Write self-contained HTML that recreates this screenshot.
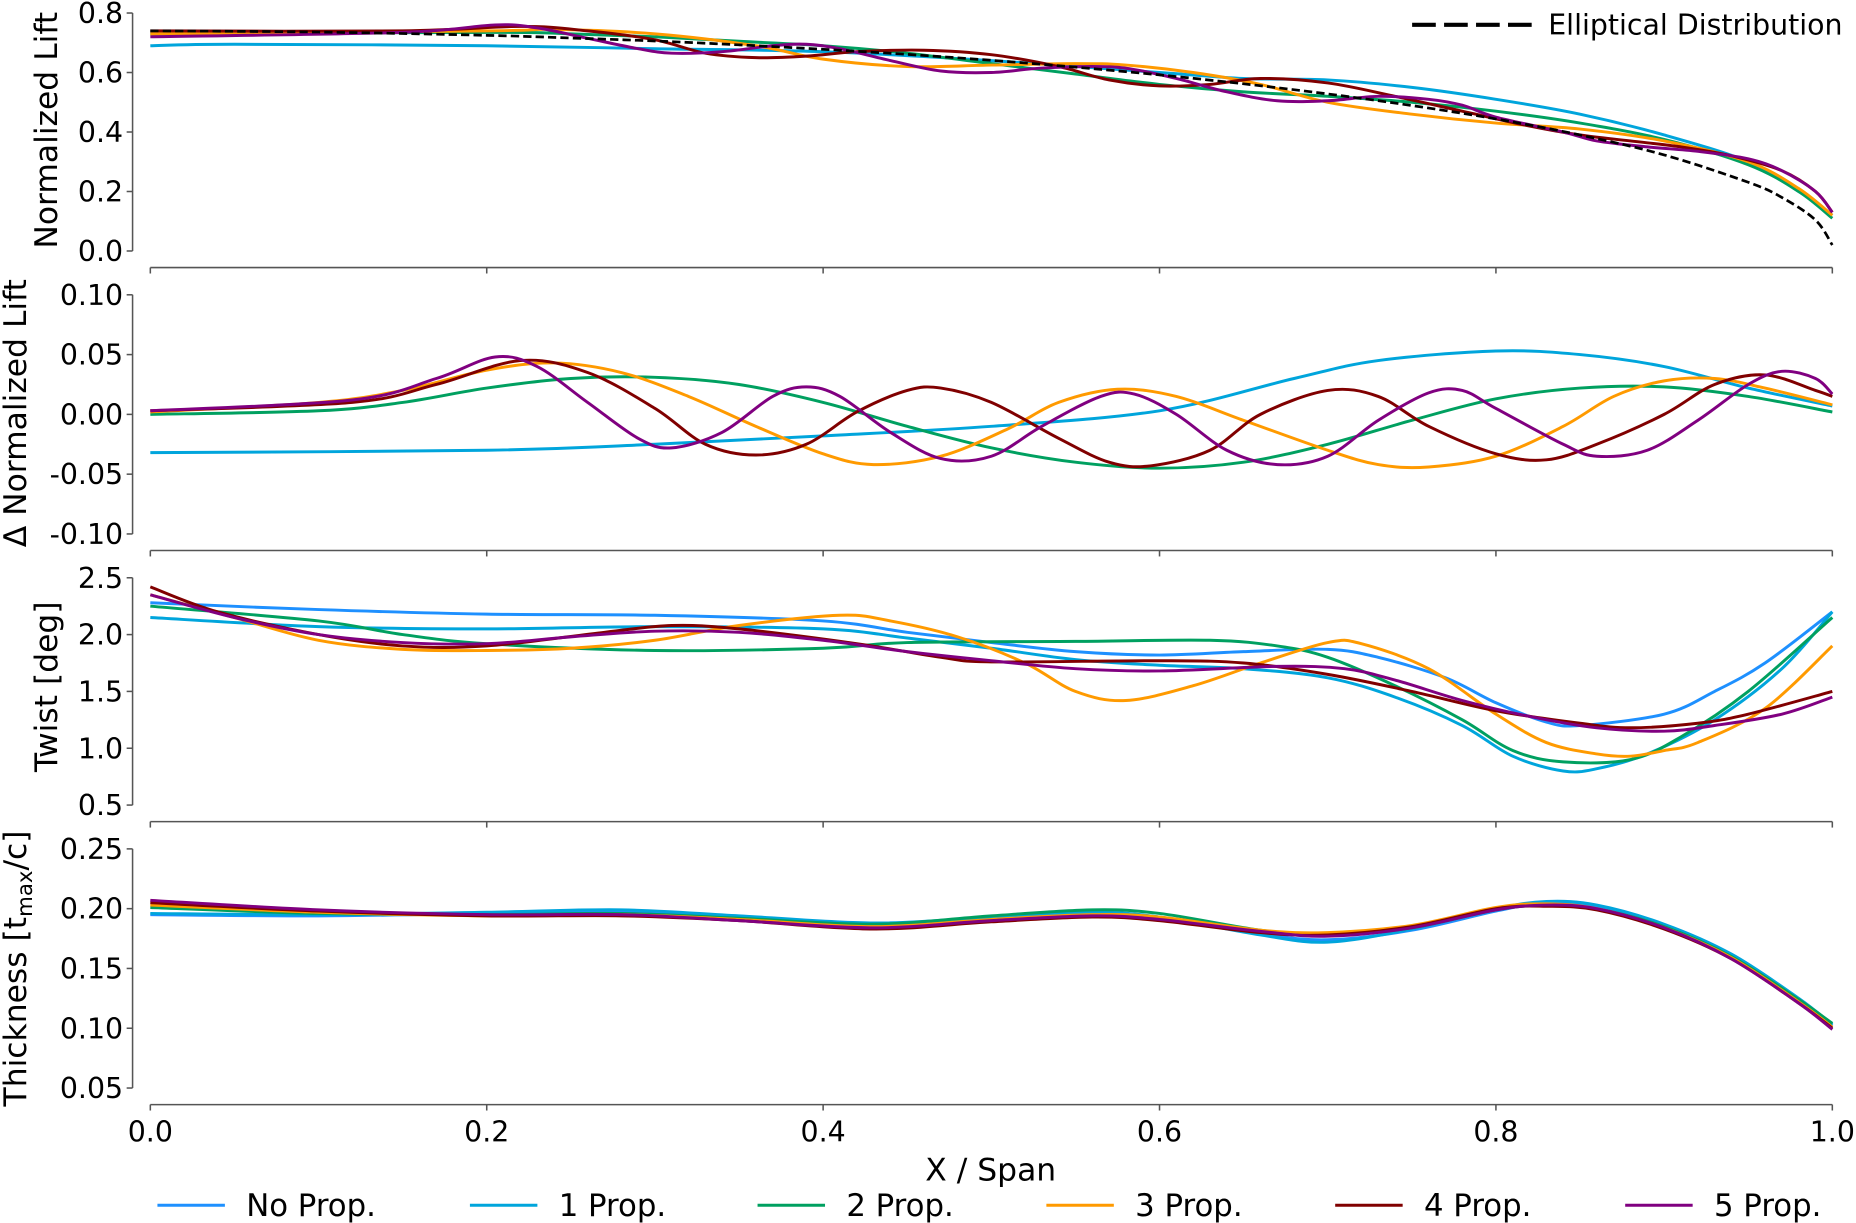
<!DOCTYPE html>
<html><head><meta charset="utf-8"><style>
html,body{margin:0;padding:0;background:#fff;}
svg{display:block;font-family:"DejaVu Sans","Liberation Sans",sans-serif;}
</style></head><body>
<svg id="chart" width="1856" height="1223" viewBox="0 0 1568 1033" preserveAspectRatio="none" xmlns="http://www.w3.org/2000/svg"></svg>
<script>
// ---- data ----
const xTicks = [0, 0.2, 0.4, 0.6, 0.8, 1.0];
const xTickLabels = ["0.0", "0.2", "0.4", "0.6", "0.8", "1.0"];
const seriesNames = ["No Prop.", "1 Prop.", "2 Prop.", "3 Prop.", "4 Prop.", "5 Prop."];
const seriesColors = ["#1e90ff", "#00a5dc", "#00a060", "#ff9a00", "#800000", "#800080"];

const liftTicks = [0, 0.2, 0.4, 0.6, 0.8];
const liftTickLabels = ["0.0", "0.2", "0.4", "0.6", "0.8"];
const deltaTicks = [-0.10, -0.05, 0, 0.05, 0.10];
const deltaTickLabels = ["-0.10", "-0.05", "0.00", "0.05", "0.10"];
const twistTicks = [0.5, 1.0, 1.5, 2.0, 2.5];
const twistTickLabels = ["0.5", "1.0", "1.5", "2.0", "2.5"];
const thickTicks = [0.05, 0.10, 0.15, 0.20, 0.25];
const thickTickLabels = ["0.05", "0.10", "0.15", "0.20", "0.25"];

// Elliptical reference
const ellipX = [0, 0.1, 0.2, 0.25, 0.3, 0.35, 0.4, 0.45, 0.5, 0.55, 0.6, 0.65, 0.7, 0.75, 0.8, 0.85, 0.9, 0.95, 0.97, 0.99, 1.0];
const ellipY = [0.74, 0.736, 0.725, 0.716, 0.706, 0.693, 0.678, 0.661, 0.641, 0.618, 0.592, 0.562, 0.528, 0.489, 0.444, 0.39, 0.323, 0.231, 0.18, 0.104, 0.02];

// Normalized lift
const lift1X = [0, 0.05, 0.2, 0.3, 0.4, 0.5, 0.6, 0.65, 0.7, 0.75, 0.8, 0.85, 0.9, 0.95, 0.98, 1.0];
const lift1Y = [0.69, 0.695, 0.69, 0.68, 0.67, 0.64, 0.6, 0.58, 0.575, 0.55, 0.51, 0.46, 0.39, 0.3, 0.2, 0.12];
const lift2X = [0, 0.2, 0.25, 0.3, 0.35, 0.4, 0.45, 0.5, 0.55, 0.6, 0.65, 0.7, 0.75, 0.8, 0.85, 0.9, 0.95, 0.98, 1.0];
const lift2Y = [0.73, 0.735, 0.73, 0.72, 0.705, 0.69, 0.665, 0.63, 0.595, 0.56, 0.535, 0.52, 0.5, 0.47, 0.43, 0.375, 0.29, 0.2, 0.11];
const lift3X = [0, 0.2, 0.24, 0.3, 0.36, 0.4, 0.45, 0.5, 0.55, 0.58, 0.62, 0.66, 0.7, 0.75, 0.8, 0.85, 0.9, 0.95, 0.98, 1.0];
const lift3Y = [0.73, 0.74, 0.745, 0.73, 0.69, 0.645, 0.62, 0.625, 0.63, 0.625, 0.6, 0.56, 0.5, 0.46, 0.43, 0.41, 0.37, 0.3, 0.21, 0.12];
const lift4X = [0, 0.15, 0.22, 0.26, 0.3, 0.33, 0.36, 0.39, 0.42, 0.46, 0.5, 0.54, 0.57, 0.6, 0.63, 0.66, 0.7, 0.74, 0.78, 0.82, 0.85, 0.88, 0.91, 0.94, 0.97, 0.99, 1.0];
const lift4Y = [0.74, 0.74, 0.755, 0.74, 0.71, 0.665, 0.65, 0.655, 0.67, 0.675, 0.66, 0.62, 0.575, 0.555, 0.56, 0.58, 0.565, 0.52, 0.47, 0.42, 0.39, 0.37, 0.35, 0.32, 0.27, 0.2, 0.13];
const lift5X = [0, 0.15, 0.205, 0.23, 0.26, 0.29, 0.31, 0.34, 0.37, 0.39, 0.41, 0.44, 0.47, 0.5, 0.53, 0.565, 0.585, 0.61, 0.64, 0.67, 0.7, 0.73, 0.76, 0.78, 0.8, 0.84, 0.86, 0.89, 0.92, 0.95, 0.97, 0.99, 1.0];
const lift5Y = [0.72, 0.735, 0.76, 0.75, 0.715, 0.68, 0.665, 0.67, 0.69, 0.695, 0.68, 0.64, 0.605, 0.6, 0.615, 0.62, 0.61, 0.58, 0.535, 0.505, 0.505, 0.52, 0.51, 0.49, 0.45, 0.4, 0.37, 0.35, 0.335, 0.31, 0.27, 0.2, 0.13];

// Delta normalized lift
const d1X = [0, 0.2, 0.3, 0.4, 0.5, 0.6, 0.68, 0.73, 0.8, 0.85, 0.9, 0.95, 1.0];
const d1Y = [-0.032, -0.03, -0.025, -0.018, -0.01, 0.003, 0.03, 0.045, 0.053, 0.05, 0.04, 0.022, 0.007];
const d2X = [0, 0.1, 0.15, 0.2, 0.25, 0.3, 0.35, 0.4, 0.45, 0.5, 0.55, 0.6, 0.65, 0.7, 0.75, 0.8, 0.85, 0.9, 0.95, 1.0];
const d2Y = [0, 0.003, 0.01, 0.022, 0.03, 0.031, 0.025, 0.01, -0.01, -0.028, -0.04, -0.045, -0.04, -0.025, -0.005, 0.013, 0.022, 0.023, 0.015, 0.002];
const d3X = [0, 0.1, 0.15, 0.2, 0.24, 0.28, 0.32, 0.36, 0.4, 0.43, 0.47, 0.51, 0.54, 0.575, 0.61, 0.65, 0.7, 0.73, 0.76, 0.8, 0.84, 0.87, 0.9, 0.93, 0.96, 1.0];
const d3Y = [0.002, 0.01, 0.02, 0.037, 0.043, 0.035, 0.015, -0.01, -0.033, -0.042, -0.035, -0.012, 0.01, 0.021, 0.015, -0.005, -0.03, -0.042, -0.044, -0.035, -0.01, 0.015, 0.028, 0.03, 0.022, 0.008];
const d4X = [0, 0.12, 0.17, 0.22, 0.26, 0.3, 0.33, 0.36, 0.39, 0.42, 0.45, 0.47, 0.5, 0.54, 0.57, 0.595, 0.63, 0.66, 0.7, 0.73, 0.76, 0.8, 0.83, 0.86, 0.9, 0.93, 0.96, 0.99, 1.0];
const d4Y = [0.003, 0.01, 0.025, 0.045, 0.035, 0.005, -0.025, -0.034, -0.025, 0.002, 0.02, 0.022, 0.01, -0.02, -0.04, -0.043, -0.03, 0, 0.02, 0.015, -0.01, -0.033, -0.038, -0.025, 0, 0.025, 0.033, 0.02, 0.015];
const d5X = [0, 0.12, 0.17, 0.205, 0.23, 0.26, 0.29, 0.31, 0.34, 0.37, 0.39, 0.41, 0.44, 0.47, 0.5, 0.53, 0.565, 0.585, 0.61, 0.64, 0.67, 0.7, 0.73, 0.76, 0.78, 0.8, 0.84, 0.86, 0.89, 0.92, 0.95, 0.97, 0.99, 1.0];
const d5Y = [0.003, 0.012, 0.03, 0.048, 0.04, 0.01, -0.02, -0.028, -0.015, 0.015, 0.023, 0.015, -0.015, -0.037, -0.035, -0.01, 0.015, 0.017, 0, -0.03, -0.042, -0.035, -0.005, 0.018, 0.02, 0.005, -0.025, -0.035, -0.03, -0.005, 0.025, 0.036, 0.03, 0.017];

// Twist
const t0X = [0, 0.1, 0.2, 0.3, 0.4, 0.45, 0.5, 0.55, 0.6, 0.65, 0.7, 0.73, 0.77, 0.8, 0.83, 0.85, 0.9, 0.93, 0.96, 1.0];
const t0Y = [2.28, 2.22, 2.18, 2.17, 2.12, 2.02, 1.93, 1.85, 1.82, 1.85, 1.87, 1.8, 1.62, 1.4, 1.23, 1.2, 1.3, 1.5, 1.75, 2.2];
const t1X = [0, 0.1, 0.2, 0.3, 0.4, 0.45, 0.5, 0.55, 0.6, 0.65, 0.7, 0.74, 0.78, 0.81, 0.84, 0.86, 0.89, 0.93, 0.97, 1.0];
const t1Y = [2.15, 2.07, 2.05, 2.07, 2.05, 1.97, 1.88, 1.78, 1.73, 1.7, 1.62, 1.45, 1.2, 0.93, 0.8, 0.82, 0.95, 1.25, 1.7, 2.2];
const t2X = [0, 0.1, 0.15, 0.2, 0.3, 0.4, 0.45, 0.55, 0.63, 0.67, 0.7, 0.74, 0.78, 0.81, 0.84, 0.88, 0.91, 0.95, 1.0];
const t2Y = [2.25, 2.12, 2.0, 1.92, 1.86, 1.88, 1.93, 1.94, 1.95, 1.9, 1.8, 1.55, 1.25, 0.98, 0.88, 0.9, 1.1, 1.5, 2.15];
const t3X = [0, 0.05, 0.1, 0.15, 0.2, 0.25, 0.3, 0.35, 0.41, 0.44, 0.48, 0.52, 0.55, 0.58, 0.62, 0.66, 0.7, 0.72, 0.76, 0.8, 0.83, 0.86, 0.88, 0.9, 0.92, 0.96, 1.0];
const t3Y = [2.35, 2.15, 1.95, 1.87, 1.86, 1.88, 1.95, 2.08, 2.17, 2.12, 1.98, 1.75, 1.5, 1.42, 1.55, 1.75, 1.93, 1.92, 1.7, 1.3, 1.05, 0.95, 0.93, 0.98, 1.05, 1.35, 1.9];
const t4X = [0, 0.04, 0.1, 0.15, 0.2, 0.27, 0.31, 0.35, 0.42, 0.47, 0.5, 0.6, 0.65, 0.7, 0.75, 0.8, 0.85, 0.88, 0.92, 0.95, 1.0];
const t4Y = [2.42, 2.2, 2.0, 1.9, 1.9, 2.02, 2.08, 2.05, 1.92, 1.8, 1.76, 1.77, 1.75, 1.65, 1.5, 1.33, 1.22, 1.18, 1.22, 1.3, 1.5];
const t5X = [0, 0.05, 0.1, 0.15, 0.2, 0.25, 0.3, 0.35, 0.4, 0.45, 0.5, 0.55, 0.6, 0.67, 0.71, 0.74, 0.78, 0.82, 0.86, 0.9, 0.93, 0.97, 1.0];
const t5Y = [2.35, 2.15, 2.0, 1.93, 1.92, 1.98, 2.03, 2.02, 1.95, 1.85, 1.77, 1.7, 1.68, 1.72, 1.7, 1.6, 1.42, 1.28, 1.18, 1.15, 1.2, 1.3, 1.45];

// Thickness
const thX = [0, 0.1, 0.2, 0.28, 0.35, 0.43, 0.5, 0.56, 0.6, 0.66, 0.7, 0.75, 0.8, 0.83, 0.86, 0.9, 0.94, 0.98, 1.0];
const th0Y = [0.195, 0.194, 0.196, 0.198, 0.193, 0.187, 0.192, 0.196, 0.193, 0.179, 0.174, 0.182, 0.198, 0.205, 0.202, 0.186, 0.161, 0.124, 0.102];
const th1Y = [0.196, 0.195, 0.197, 0.199, 0.194, 0.188, 0.193, 0.197, 0.193, 0.178, 0.172, 0.183, 0.2, 0.206, 0.203, 0.187, 0.162, 0.125, 0.103];
const th2Y = [0.201, 0.196, 0.195, 0.196, 0.192, 0.187, 0.194, 0.199, 0.196, 0.182, 0.178, 0.184, 0.199, 0.203, 0.2, 0.185, 0.16, 0.124, 0.104];
const th3Y = [0.203, 0.197, 0.194, 0.195, 0.191, 0.185, 0.191, 0.195, 0.193, 0.182, 0.18, 0.186, 0.201, 0.204, 0.2, 0.184, 0.159, 0.122, 0.101];
const th4Y = [0.205, 0.198, 0.194, 0.194, 0.19, 0.183, 0.189, 0.193, 0.19, 0.18, 0.178, 0.185, 0.2, 0.202, 0.199, 0.183, 0.158, 0.121, 0.1];
const th5Y = [0.207, 0.199, 0.195, 0.195, 0.19, 0.184, 0.19, 0.194, 0.191, 0.181, 0.177, 0.184, 0.199, 0.203, 0.2, 0.184, 0.158, 0.121, 0.099];

// ---- drawing ----
const NS = "http://www.w3.org/2000/svg";
const svg = document.getElementById("chart");
const X0 = 127, X1 = 1548, SPINE_Y_X = 112;
function xScale(v) { return X0 + v * (X1 - X0); }
function mk(tag, attrs, parent) {
  const e = document.createElementNS(NS, tag);
  for (const k in attrs) e.setAttribute(k, attrs[k]);
  (parent || svg).appendChild(e);
  return e;
}
function pathD(xs, ys, ysc) {
  const p = xs.map((x, i) => [xScale(x), ysc(ys[i])]);
  let d = "M" + p[0][0].toFixed(2) + "," + p[0][1].toFixed(2);
  for (let i = 0; i < p.length - 1; i++) {
    const p0 = p[Math.max(0, i - 1)], p1 = p[i], p2 = p[i + 1], p3 = p[Math.min(p.length - 1, i + 2)];
    const c1x = p1[0] + (p2[0] - p0[0]) / 6, c1y = p1[1] + (p2[1] - p0[1]) / 6;
    const c2x = p2[0] - (p3[0] - p1[0]) / 6, c2y = p2[1] - (p3[1] - p1[1]) / 6;
    d += " C" + c1x.toFixed(2) + "," + c1y.toFixed(2) + " " + c2x.toFixed(2) + "," + c2y.toFixed(2) + " " + p2[0].toFixed(2) + "," + p2[1].toFixed(2);
  }
  return d;
}

const panels = [
  { key: "lift", vTop: 0.8, vBot: 0, yTop: 11, yBot: 212, spine: 226, ticks: liftTicks, labels: liftTickLabels, title: "Normalized Lift", tx: 38, ty: 110 },
  { key: "delta-lift", vTop: 0.10, vBot: -0.10, yTop: 249, yBot: 451, spine: 465, ticks: deltaTicks, labels: deltaTickLabels, title: "Δ Normalized Lift", tx: 12, ty: 349 },
  { key: "twist", vTop: 2.5, vBot: 0.5, yTop: 488, yBot: 680, spine: 694, ticks: twistTicks, labels: twistTickLabels, title: "Twist [deg]", tx: 38, ty: 580 },
  { key: "thickness", vTop: 0.25, vBot: 0.05, yTop: 717, yBot: 919, spine: 933, ticks: thickTicks, labels: thickTickLabels, title: null, tx: 12, ty: 818 }
];
panels.forEach(p => { p.y = v => p.yBot + (v - p.vBot) / (p.vTop - p.vBot) * (p.yTop - p.yBot); });

panels.forEach((p, pi) => {
  const g = mk("g", {});
  
  
  const ys = mk("line", { x1: SPINE_Y_X, x2: SPINE_Y_X, y1: p.yTop, y2: p.yBot, stroke: "#555", "stroke-width": 1.3 }, g);
  
  
  p.ticks.forEach((t, i) => {
    const yy = p.y(t);
    mk("line", { x1: SPINE_Y_X - 5, x2: SPINE_Y_X, y1: yy, y2: yy, stroke: "#555", "stroke-width": 1.3 }, g);
    const tl = mk("text", { x: SPINE_Y_X - 8, y: yy + 8.5, "text-anchor": "end", "font-size": 24, fill: "#000" }, g);
    tl.textContent = p.labels[i];
    
    
  });
  const xs = mk("line", { x1: X0, x2: X1, y1: p.spine, y2: p.spine, stroke: "#555", "stroke-width": 1.3 }, g);
  
  
  xTicks.forEach((t, i) => {
    mk("line", { x1: xScale(t), x2: xScale(t), y1: p.spine, y2: p.spine + 5, stroke: "#555", "stroke-width": 1.3 }, g);
    if (pi === 3) {
      const tl = mk("text", { x: xScale(t), y: p.spine + 31, "text-anchor": "middle", "font-size": 24, fill: "#000" }, g);
      tl.textContent = xTickLabels[i];
      
      
    }
  });
  const title = mk("text", { transform: "translate(" + (p.tx + 10) + "," + p.ty + ") rotate(-90)", "text-anchor": "middle", "font-size": 26.5, fill: "#000" }, g);
  
  
  if (p.title) title.textContent = p.title;
  else {
    title.appendChild(document.createTextNode("Thickness [t"));
    const sub = mk("tspan", { "font-size": 18, dy: 5 }, title); sub.textContent = "max";
    const rest = mk("tspan", { dy: -5 }, title); rest.textContent = "/c]";
  }
  p.g = g;
});

function drawLine(panel, xs, ys, color, name, dash) {
  const a = { d: pathD(xs, ys, panel.y), fill: "none", stroke: color, "stroke-width": dash ? 2.3 : 2.5, "stroke-linejoin": "round" };
  if (dash) a["stroke-dasharray"] = "7,3.5";
  const el = mk("path", a, panel.g);
  
  
}
const [P1, P2, P3, P4] = panels;
const liftX = [null, lift1X, lift2X, lift3X, lift4X, lift5X], liftY = [null, lift1Y, lift2Y, lift3Y, lift4Y, lift5Y];
const dX = [null, d1X, d2X, d3X, d4X, d5X], dY = [null, d1Y, d2Y, d3Y, d4Y, d5Y];
const tX = [t0X, t1X, t2X, t3X, t4X, t5X], tY = [t0Y, t1Y, t2Y, t3Y, t4Y, t5Y];
const thY = [th0Y, th1Y, th2Y, th3Y, th4Y, th5Y];
for (let i = 1; i < 6; i++) drawLine(P1, liftX[i], liftY[i], seriesColors[i], "lift-line-" + i + "-prop");
drawLine(P1, ellipX, ellipY, "#000", "elliptical-distribution-line", true);
for (let i = 1; i < 6; i++) drawLine(P2, dX[i], dY[i], seriesColors[i], "delta-lift-line-" + i + "-prop");
for (let i = 0; i < 6; i++) drawLine(P3, tX[i], tY[i], seriesColors[i], "twist-line-" + i + "-prop");
for (let i = 0; i < 6; i++) drawLine(P4, thX, thY[i], seriesColors[i], "thickness-line-" + i + "-prop");

// elliptical legend
const el1 = mk("line", { x1: 1193, x2: 1298, y1: 21, y2: 21, stroke: "#000", "stroke-width": 3.5, "stroke-dasharray": "20,7" });


const el2 = mk("text", { x: 1308, y: 29, "font-size": 24, fill: "#000" });
el2.textContent = "Elliptical Distribution";



// x title
const xt = mk("text", { x: 837, y: 997, "text-anchor": "middle", "font-size": 26.5, fill: "#000" });
xt.textContent = "X / Span";



// bottom legend
const legX = [133, 397, 640, 884, 1128, 1373];
for (let i = 0; i < 6; i++) {
  const g = mk("g", {});
  
  
  mk("line", { x1: legX[i], x2: legX[i] + 57, y1: 1018, y2: 1018, stroke: seriesColors[i], "stroke-width": 2.5 }, g);
  const t = mk("text", { x: legX[i] + 75, y: 1027, "font-size": 26, fill: "#000" }, g);
  t.textContent = seriesNames[i];
}
</script>
</body></html>
